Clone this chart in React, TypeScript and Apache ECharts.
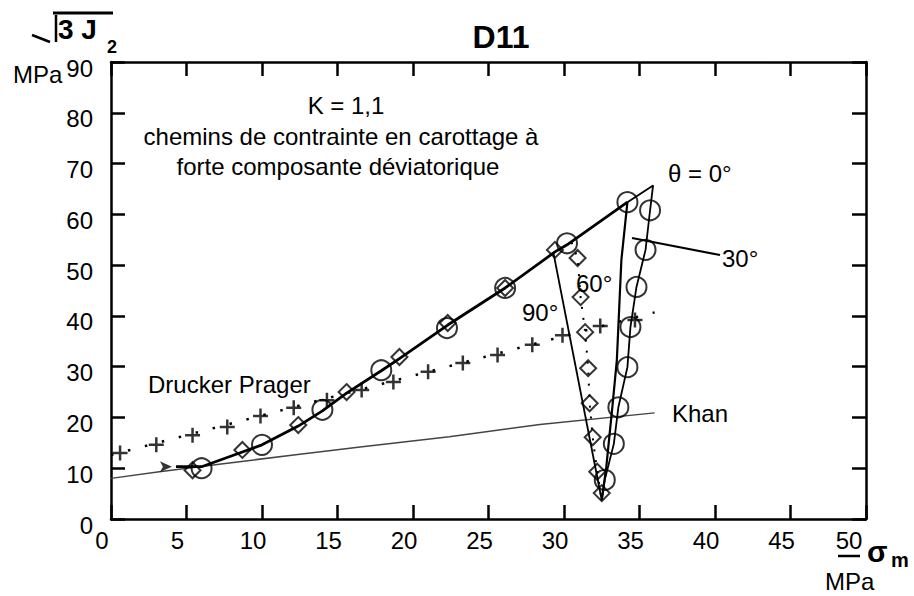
import React, { useEffect, useRef } from "react";
import * as echarts from "echarts";

// ---- data ----
const xTicks = { min: 0, max: 50, step: 5 };
const yTicks = { min: 0, max: 90, step: 10 };

const circlesUp: [number, number][] = [
  [6.0, 10.0], [10.0, 14.6], [14.0, 21.5], [17.9, 29.3], [22.25, 37.6], [26.1, 45.5], [30.2, 54.3], [34.2, 62.4],
];
const circlesDown: [number, number][] = [
  [35.7, 60.8], [35.4, 53.0], [34.8, 45.7], [34.4, 37.8], [34.2, 29.9], [33.6, 22.0], [33.3, 14.8], [32.7, 7.7],
];
const diamondsUp: [number, number][] = [
  [5.4, 9.6], [8.7, 13.6], [12.4, 18.5], [15.6, 25.0], [19.1, 31.9], [22.3, 38.6], [26.1, 45.5], [29.4, 53.0],
];
const diamondsDown: [number, number][] = [
  [30.9, 51.4], [31.1, 43.7], [31.4, 36.8], [31.6, 29.7], [31.7, 22.8], [31.9, 16.1], [32.2, 9.3], [32.5, 5.1],
];
const druckerPragerCrosses: [number, number][] = [
  [0.6, 13.0], [3.0, 14.6], [5.4, 16.5], [7.7, 18.1], [9.9, 20.3], [12.1, 21.9], [14.3, 23.4], [16.6, 25.4],
  [18.7, 27.0], [21.0, 29.0], [23.3, 30.7], [25.6, 32.3], [27.9, 34.3], [29.9, 36.2], [32.4, 38.0], [34.7, 39.2],
];
const druckerPragerLine: [number, number][] = [[0, 12.6], [36.0, 40.7]];
const khanLine: [number, number][] = [
  [0, 8.0], [3.2, 9.3], [7.7, 11.0], [12.1, 12.6], [16.5, 14.2], [22.4, 16.2], [28.4, 18.6], [36.0, 20.9],
];
const pathUp: [number, number][] = [
  [4.3, 10.3], [6.0, 10.3], [8.7, 13.2], [10.0, 14.6], [12.4, 18.3], [14.0, 21.3], [15.6, 24.8], [17.9, 29.2],
  [19.1, 31.6], [22.3, 38.2], [26.1, 45.5], [29.4, 52.6], [30.2, 54.0], [34.2, 62.4],
];
const pathStart: [number, number][] = [[4.3, 10.3]];
const theta0: [number, number][] = [
  [34.2, 62.4], [35.9, 65.7], [35.7, 60.8], [35.4, 53.0], [34.8, 45.7], [34.4, 37.8], [34.2, 29.9], [33.6, 22.0],
  [33.3, 14.8], [32.7, 7.7], [32.5, 3.7],
];
const theta30: [number, number][] = [[34.2, 62.4], [33.8, 51.0], [33.5, 31.3], [33.2, 22.0], [32.8, 10.2], [32.5, 3.7]];
const theta60: [number, number][] = [
  [30.5, 54.5], [30.9, 51.4], [31.1, 43.7], [31.4, 36.8], [31.6, 29.7], [31.7, 22.8], [31.9, 16.1], [32.2, 9.3], [32.5, 3.7],
];
const theta90: [number, number][] = [[29.3, 52.4], [32.5, 3.7]];

const FONT = "'Liberation Sans', Arial, Helvetica, sans-serif";
const PLUS = "path://M6,0h2.4v14.4h-2.4z M0,6h14.4v2.4h-14.4z";

function axisCommon(range: { min: number; max: number; step: number }) {
  return {
    type: "value" as const,
    min: range.min,
    max: range.max,
    interval: range.step,
    splitLine: { show: false },
    axisLine: { show: true, onZero: false, lineStyle: { color: "#000", width: 2.5 } },
    axisTick: { show: true, inside: true, length: 14, lineStyle: { color: "#000", width: 2.5 } },
  };
}

function txt(text: string, x: number, y: number, size = 24, align = "left", weight = "normal") {
  return {
    type: "text",
    x,
    y,
    z: 100,
    style: {
      text,
      fill: "#000",
      fontFamily: FONT,
      fontSize: size,
      fontWeight: weight,
      align,
      verticalAlign: "middle",
    },
  };
}

function ln(x1: number, y1: number, x2: number, y2: number, w = 2.5) {
  return { type: "line", z: 100, shape: { x1, y1, x2, y2 }, style: { stroke: "#000", lineWidth: w } };
}

export default function App() {
  const ref = useRef<HTMLDivElement>(null);
  useEffect(() => {
    if (!ref.current) return;
    const chart = echarts.init(ref.current, undefined, { renderer: "svg" });
    const lineSeries = (data: [number, number][], width: number, type: any = "solid", color = "#000") => ({
      type: "line",
      data,
      showSymbol: false,
      symbol: "none",
      silent: true,
      z: 2,
      lineStyle: { color, width, type },
    });
    const labelRich = { fontFamily: FONT, fontSize: 24, color: "#000" };
    chart.setOption({
      animation: false,
      backgroundColor: "#fff",
      grid: { left: 111, right: 48, top: 62, bottom: 77 },
      xAxis: [
        {
          ...axisCommon(xTicks),
          position: "bottom",
          axisLabel: {
            color: "#000",
            fontFamily: FONT,
            fontSize: 24,
            margin: 9,
            formatter: (v: number) => (v === 50 ? `{e|${v}}` : `{a|${v}}`),
            rich: {
              a: { ...labelRich, padding: [0, 18, 0, 0] },
              e: { ...labelRich, padding: [0, 34, 0, 0] },
            },
          },
        },
        { ...axisCommon(xTicks), position: "top", axisLabel: { show: false } },
      ],
      yAxis: [
        {
          ...axisCommon(yTicks),
          position: "left",
          axisLabel: {
            color: "#000",
            fontFamily: FONT,
            fontSize: 24,
            margin: 18,
            formatter: (v: number) => `{a|${v}}`,
            rich: { a: { ...labelRich, padding: [12, 0, 0, 0] } },
          },
        },
        { ...axisCommon(yTicks), position: "right", axisLabel: { show: false } },
      ],
      series: [
        lineSeries(khanLine, 1.5, "solid", "#444"),
        lineSeries(druckerPragerLine, 2.5, [2.5, 15]),
        lineSeries(pathUp, 2.8),
        lineSeries(theta0, 1.8),
        lineSeries(theta30, 2.2),
        lineSeries(theta60, 2, [2, 9]),
        lineSeries(theta90, 1.8),
        {
          type: "scatter",
          data: druckerPragerCrosses,
          symbol: PLUS,
          symbolSize: 15,
          itemStyle: { color: "#000" },
          z: 3,
        },
        {
          type: "scatter",
          data: [...circlesUp, ...circlesDown],
          symbol: "circle",
          symbolSize: 20,
          itemStyle: { color: "rgba(0,0,0,0)", borderColor: "#000", borderWidth: 2 },
          z: 4,
        },
        {
          type: "scatter",
          data: [...diamondsUp, ...diamondsDown],
          symbol: "diamond",
          symbolSize: 16,
          itemStyle: { color: "rgba(0,0,0,0)", borderColor: "#000", borderWidth: 2 },
          z: 4,
        },
        {
          type: "scatter",
          data: pathStart,
          symbol: "arrow",
          symbolSize: [8, 12],
          symbolRotate: -90,
          symbolOffset: [-4, 0],
          itemStyle: { color: "#000" },
          z: 4,
        },
      ],
      graphic: [
        txt("D11", 501, 37, 32, "center", "bold"),
        txt("K = 1,1", 346, 105, 24, "center"),
        txt("chemins de contrainte en carottage à", 341, 136, 24, "center"),
        txt("forte composante déviatorique", 338, 166, 24, "center"),
        txt("θ = 0°", 668, 173, 24),
        txt("30°", 722, 258, 24),
        txt("60°", 576, 283, 24),
        txt("90°", 522, 312, 24),
        txt("Drucker Prager", 148, 384, 24),
        txt("Khan", 672, 413, 24),
        ln(632, 238, 720, 255, 2.2),
        // y axis title: sqrt(3 J2) MPa
        ln(32, 35, 50, 42, 2.5),
        ln(56, 15, 56, 42, 2.5),
        ln(53, 13, 113, 13, 3),
        txt("3 J", 58, 29, 28, "left", "bold"),
        txt("2", 107, 47, 18, "left", "bold"),
        txt("MPa", 13, 74, 24),
        // x axis title: sigma_m MPa
        ln(838, 556, 860, 556, 2.5),
        txt("σ", 867, 551, 30, "left", "bold"),
        txt("m", 891, 560, 20, "left", "bold"),
        txt("MPa", 825, 581, 24),
      ],
    });
    return () => chart.dispose();
  }, []);
  return <div ref={ref} style={{ position: "fixed", left: 0, top: 0, width: 914, height: 596 }} />;
}
